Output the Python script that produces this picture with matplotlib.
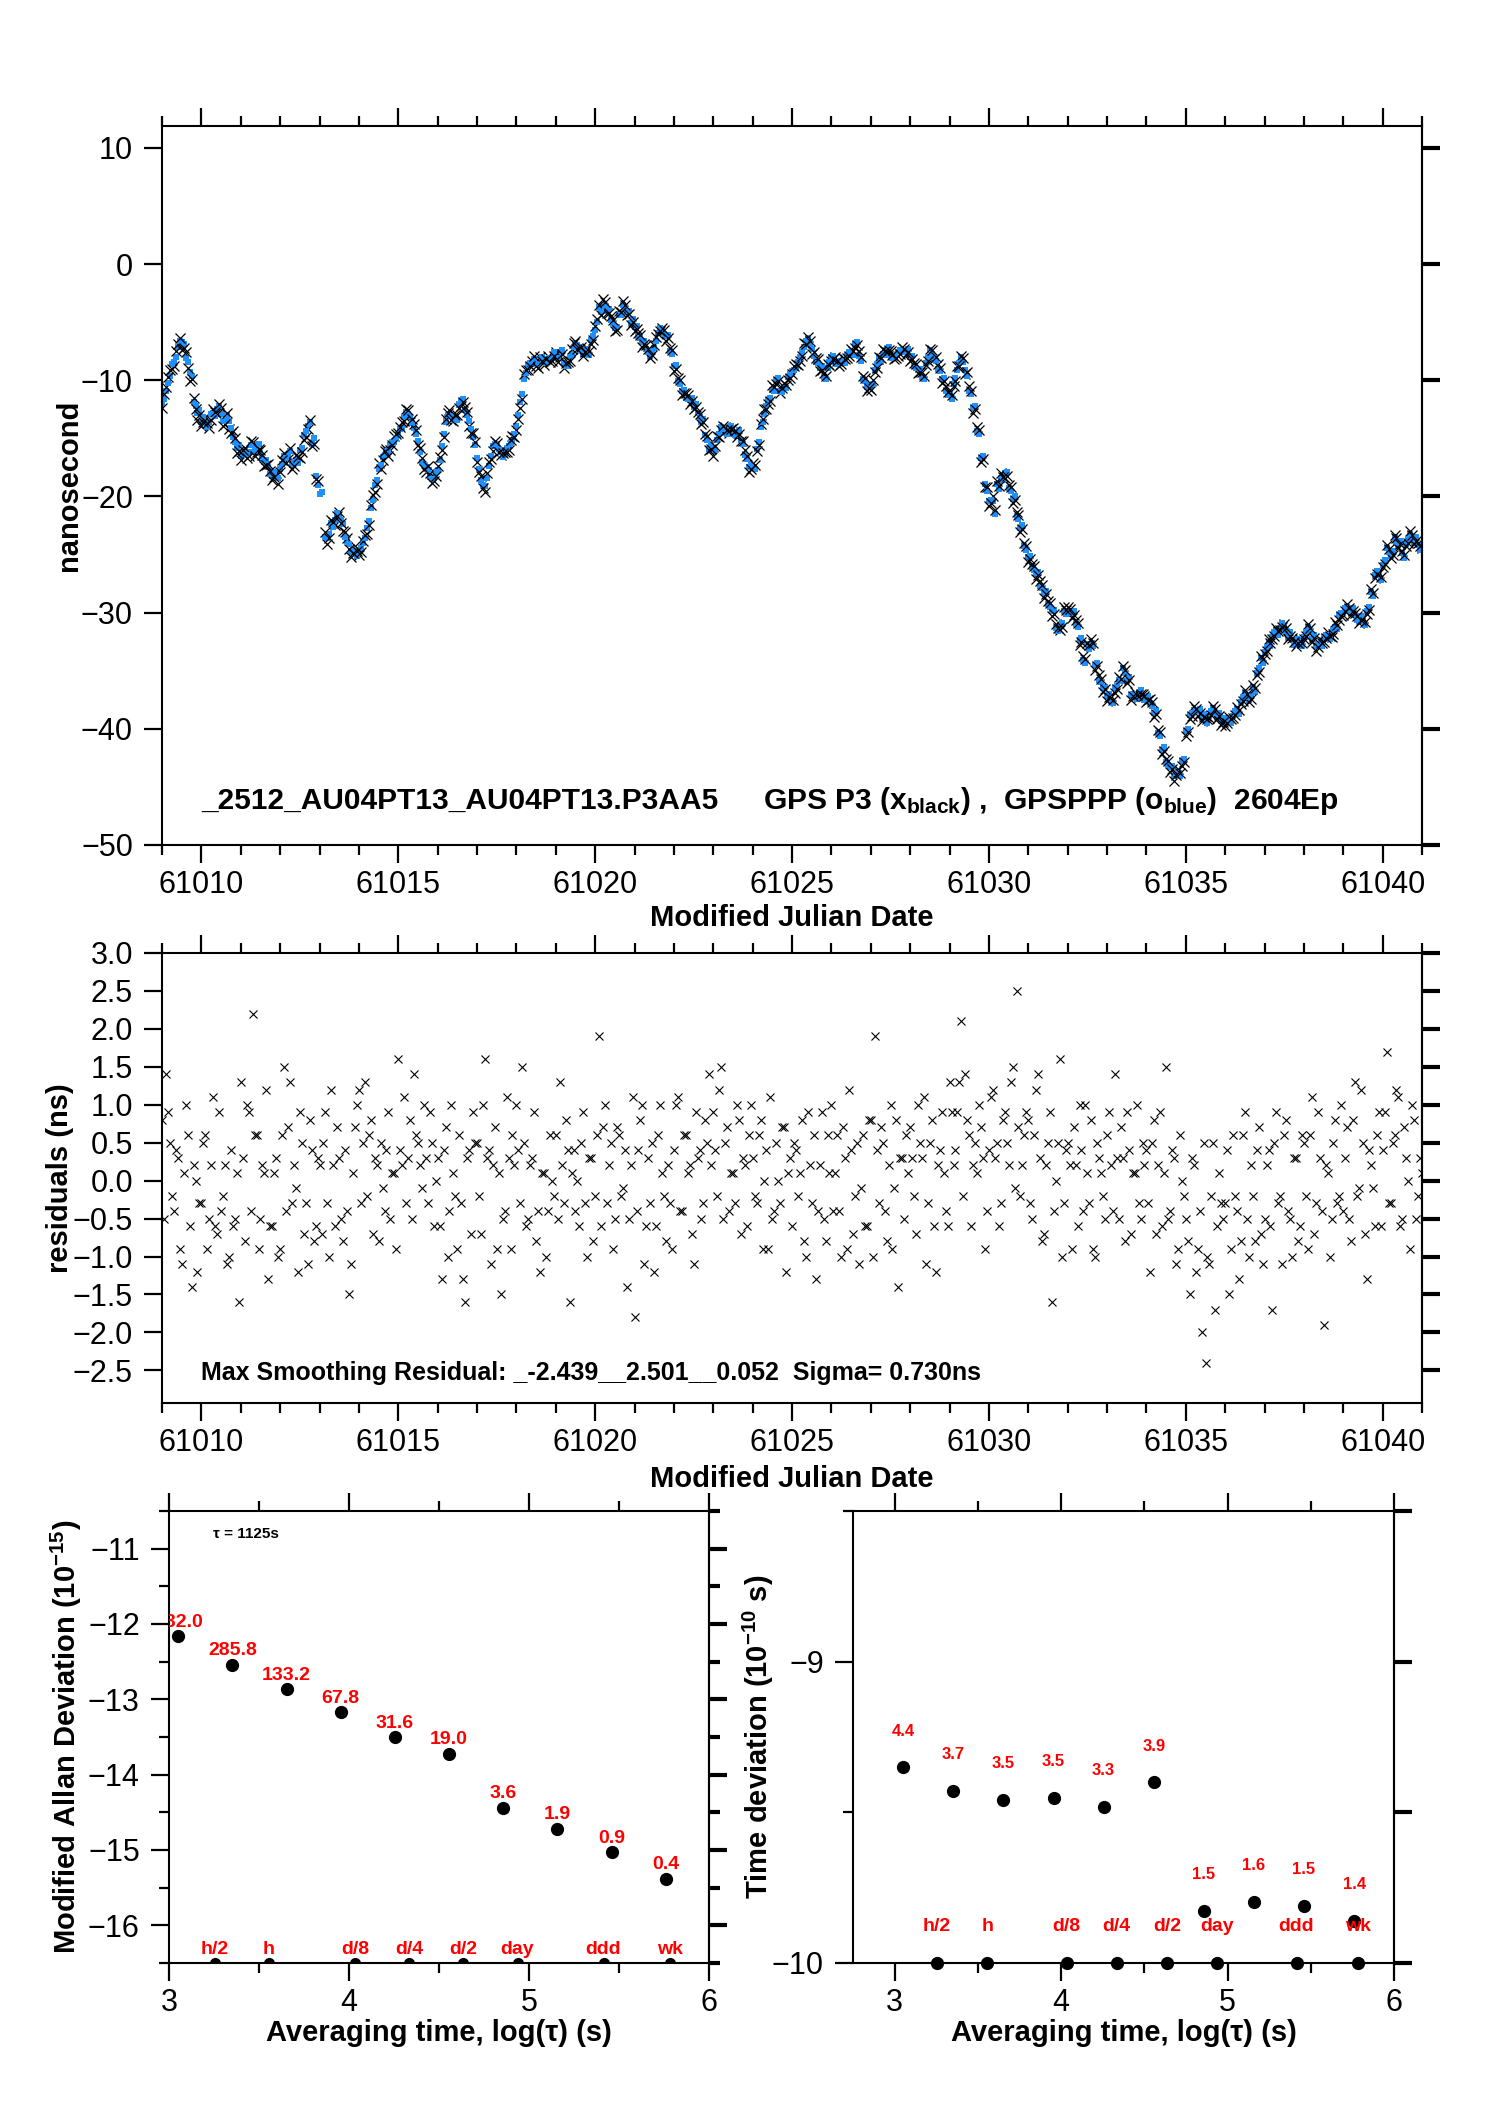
import numpy as np
import matplotlib
matplotlib.use('Agg')
import matplotlib.pyplot as plt
from matplotlib.ticker import MultipleLocator, FuncFormatter

plt.rcParams['font.family'] = ['Liberation Sans', 'DejaVu Sans']
plt.rcParams['mathtext.fontset'] = 'custom'
plt.rcParams['mathtext.rm'] = 'Liberation Sans'
plt.rcParams['mathtext.bf'] = 'Liberation Sans:bold'
plt.rcParams['mathtext.default'] = 'bf'

# ---- top panel: GPS P3 clock offsets (ns), every 0.1 day from MJD 61009.0
black_ns = [
    -12.4, -10.6, -9.1, -8.8, -6.9, -7.4, -7.6, -10.1, -11.5, -13.4,   # 61009
    -13.9, -13.2, -14.1, -12.5, -12.9, -12.4, -13.8, -14.2, -14.4, -16.3,  # 61010
    -16.9, -15.8, -16.5, -15.3, -16.2, -16.0, -17.4, -17.2, -18.6, -18.0,  # 61011
    -17.9, -16.3, -16.8, -17.6, -16.4, -16.7, -15.1, -14.2, -15.7, -18.5,  # 61012
    np.nan, np.nan, -24.1, -22.0, -22.5, -21.3, -23.0, -23.6, -25.2, -24.3,  # 61013
    -25.0, -23.8, -23.2, -20.7, -19.6, -17.1, -16.9, -15.9, -16.0, -14.8,  # 61014
    -14.5, -13.6, -12.5, -13.6, -13.8, -15.6, -16.7, -17.9, -18.0, -18.7,  # 61015
    -17.4, -16.0, -13.3, -12.6, -13.5, -13.0, -12.2, -12.3, -13.9, -14.5,  # 61016
    -17.0, -18.2, -19.6, -17.0, -16.1, -15.4, -16.4, -16.2, -16.0, -14.8,  # 61017
    -14.3, -12.4, -9.5, -9.1, -8.3, -8.8, -8.0, -8.7, -7.9, -8.3,  # 61018
    -7.6, -8.0, -8.9, -8.4, -7.3, -6.6, -7.5, -7.9, -7.2, -6.9,  # 61019
    -5.3, -3.5, -3.0, -4.2, -4.5, -5.8, -4.0, -3.2, -4.4, -5.2,  # 61020
    -5.8, -5.9, -7.1, -7.0, -8.1, -7.0, -6.0, -5.5, -6.6, -7.2,  # 61021
    -9.2, -9.8, -11.3, -11.1, -12.0, -12.5, -12.7, -13.8, -14.6, -16.0,  # 61022
    -16.5, -14.8, -14.3, -14.0, -14.5, -14.1, -14.9, -15.2, -16.0, -17.9,  # 61023
    -17.1, -16.1, -13.8, -12.5, -12.0, -10.4, -10.3, -11.1, -10.2, -10.0,  # 61024
    -9.5, -8.6, -8.3, -6.8, -6.3, -7.7, -8.1, -9.2, -9.4, -8.6,  # 61025
    -8.3, -8.0, -8.8, -8.1, -8.1, -7.3, -7.2, -7.5, -9.6, -10.9,  # 61026
    -10.8, -9.3, -8.0, -7.3, -7.6, -7.5, -8.2, -7.9, -7.1, -7.8,  # 61027
    -8.3, -8.5, -9.4, -9.3, -8.7, -7.3, -8.2, -8.6, -10.2, -10.5,  # 61028
    -11.0, -10.5, -8.8, -7.9, -9.5, -10.5, -12.8, -14.0, -17.0, -19.2,  # 61029
    -20.8, -20.0, -18.7, -18.0, -18.4, -19.0, -20.6, -21.3, -23.1, -24.0,  # 61030
    -25.6, -25.8, -27.1, -27.3, -28.7, -29.0, -30.3, -31.0, -31.5, -29.5,  # 61031
    -29.5, -30.5, -30.6, -32.8, -33.7, -32.6, -32.3, -34.9, -35.4, -36.8,  # 61032
    -37.6, -37.2, -36.9, -35.5, -34.6, -36.1, -37.5, -36.8, -37.3, -37.0,  # 61033
    -37.7, -37.4, -39.0, -40.1, -42.2, -42.6, -43.7, -44.5, -43.5, -43.2,  # 61034
    -40.6, -39.2, -38.0, -38.9, -39.3, -38.9, -39.1, -38.0, -39.2, -39.7,  # 61035
    -39.8, -39.0, -39.1, -38.1, -37.9, -36.7, -37.7, -36.2, -35.4, -33.7,  # 61036
    -33.6, -32.3, -32.3, -31.3, -31.5, -31.0, -32.3, -32.2, -32.9, -32.3,  # 61037
    -32.3, -31.0, -32.5, -33.3, -32.3, -32.5, -31.7, -32.1, -30.8, -30.6,  # 61038
    -30.2, -29.3, -30.2, -30.0, -30.9, -30.5, -30.1, -28.0, -27.0, -26.6,  # 61039
    -26.1, -24.2, -25.3, -23.3, -24.4, -24.7, -24.3, -23.0, -24.1, -24.0,  # 61040
    -24.4,
]

# GPS P3, in-between epochs (MJD 61009.05 + 0.1 day steps)
black_ns_b = [
    -11.2, -9.7, -9.0, -7.5, -6.4, -7.2, -8.9, -9.9, -12.5, -13.0,
    -13.6, -13.7, -13.4, -12.7, -12.0, -13.9, -12.8, -14.5, -15.0, -16.1,
    -16.0, -16.7, -15.2, -16.5, -15.9, -16.4, -17.3, -17.8, -18.3, -18.9,
    -16.9, -17.1, -15.8, -17.4, -16.6, -16.2, -14.9, -13.4, -15.5, -18.7,
    np.nan, -23.1, -23.6, -22.2, -21.7, -22.3, -23.1, -24.5, -24.9, -24.7,
    -24.8, -23.3, -22.5, -19.9, -18.9, -17.6, -16.1, -16.5, -15.6, -14.6,
    -14.0, -13.5, -12.6, -13.3, -14.3, -15.8, -17.6, -17.4, -18.8, -18.2,
    -16.6, -14.9, -12.8, -13.4, -13.0, -12.4, -11.9, -12.7, -14.5, -15.3,
    -17.9, -19.3, -18.0, -16.8, -15.2, -16.2, -16.3, -16.2, -15.1, -14.9,
    -13.3, -11.6, -9.1, -8.8, -7.9, -8.9, -8.3, -8.2, -8.4, -7.9,
    -8.4, -7.7, -8.5, -8.3, -6.8, -7.3, -7.1, -7.6, -7.5, -6.5,
    -4.7, -4.4, -3.3, -4.2, -4.8, -5.7, -4.1, -3.5, -4.3, -5.0,
    -5.6, -6.1, -6.9, -7.3, -7.8, -6.3, -5.8, -5.7, -6.4, -7.4,
    -9.0, -10.0, -11.1, -11.3, -11.8, -12.3, -12.9, -13.6, -14.8, -15.9,
    -15.7, -14.9, -13.9, -14.3, -14.2, -14.4, -14.6, -15.2, -16.5, -17.6,
    -17.3, -15.6, -13.3, -12.5, -11.8, -10.6, -10.1, -10.7, -10.4, -9.8,
    -8.8, -8.7, -7.9, -6.9, -6.6, -7.6, -8.2, -9.1, -9.6, -8.7,
    -8.2, -8.3, -8.6, -8.2, -7.9, -7.5, -7.0, -8.0, -9.8, -10.7,
    -10.0, -8.9, -8.1, -7.5, -7.4, -7.8, -8.1, -7.7, -7.3, -7.6,
    -8.2, -8.6, -9.3, -9.6, -8.3, -7.4, -8.0, -8.9, -10.1, -11.0,
    -11.3, -10.1, -8.8, -8.1, -9.3, -10.9, -12.5, -14.3, -16.8, -19.2,
    -20.6, -21.2, -19.1, -18.3, -18.2, -19.2, -20.3, -21.6, -22.8, -24.3,
    -25.4, -26.0, -26.8, -27.6, -28.4, -29.2, -30.1, -31.3, -31.2, -29.8,
    -29.7, -30.2, -30.9, -32.5, -34.0, -32.8, -32.6, -34.6, -35.7, -36.6,
    -37.3, -37.5, -36.6, -35.7, -34.9, -35.8, -37.2, -37.1, -37.0, -37.2,
    -37.5, -37.7, -38.7, -40.3, -41.9, -42.8, -43.5, -44.0, -43.8, -42.9,
    -40.3, -38.9, -38.3, -38.6, -39.0, -39.2, -38.8, -38.3, -38.9, -39.4,
    -39.5, -39.2, -38.8, -38.4, -37.6, -37.0, -37.4, -36.5, -35.1, -34.0,
    -33.3, -32.6, -32.0, -31.6, -31.2, -31.3, -32.0, -32.5, -32.6, -32.6,
    -32.0, -31.3, -32.2, -33.0, -32.6, -32.2, -32.0, -31.8, -31.1, -30.3,
    -29.9, -29.6, -29.9, -30.3, -30.6, -30.8, -29.8, -28.3, -26.7, -26.9,
    -25.8, -24.5, -25.0, -23.6, -24.1, -25.0, -24.0, -23.3, -23.8, -24.3,
]

# GPSPPP, every 0.1 day from MJD 61009.05
blue_ns = [
    -11.6, -10.2, -8.6, -8.0, -6.6, -6.9, -8.4, -9.6, -12.2, -12.6,
    -13.2, -14.0, -12.9, -13.1, -12.2, -13.5, -13.0, -14.1, -15.3, -15.6,
    -16.3, -16.4, -15.6, -16.1, -15.5, -16.8, -16.9, -18.1, -17.9, -18.4,
    -17.2, -16.7, -16.1, -17.0, -17.1, -15.8, -14.4, -13.6, -15.0, -19.0,
    -19.6, -23.5, -23.2, -22.6, -21.4, -22.0, -23.5, -24.1, -24.6, -25.1,
    -24.4, -23.6, -22.1, -20.3, -18.6, -17.3, -16.4, -16.1, -15.3, -15.0,
    -14.2, -13.2, -12.9, -13.7, -14.6, -16.2, -17.3, -17.7, -18.5, -17.9,
    -16.9, -14.6, -13.0, -13.1, -13.4, -12.1, -11.6, -13.0, -14.2, -15.6,
    -17.6, -19.0, -18.4, -16.5, -15.5, -15.9, -16.6, -15.9, -15.4, -14.6,
    -13.0, -11.2, -9.4, -8.5, -8.2, -8.6, -8.0, -8.5, -8.1, -7.6,
    -8.1, -7.4, -8.8, -8.0, -7.1, -7.0, -7.4, -7.3, -7.8, -6.2,
    -5.0, -4.1, -3.6, -3.9, -5.1, -5.4, -4.4, -3.8, -4.0, -4.7,
    -5.3, -6.4, -6.6, -7.6, -7.5, -6.6, -5.5, -6.0, -6.1, -7.7,
    -8.7, -10.3, -10.8, -11.6, -11.5, -12.0, -13.2, -13.3, -15.1, -15.6,
    -16.0, -14.6, -14.2, -14.6, -13.9, -14.7, -14.3, -15.5, -16.8, -17.3,
    -17.6, -15.3, -13.6, -12.2, -11.5, -10.9, -9.8, -11.0, -10.7, -9.5,
    -9.1, -8.4, -7.6, -6.6, -6.9, -7.9, -8.5, -8.8, -9.9, -8.4,
    -7.9, -8.6, -8.3, -8.5, -7.6, -7.8, -6.7, -8.3, -10.1, -10.4,
    -10.3, -8.6, -8.4, -7.8, -7.1, -8.1, -7.8, -7.4, -7.6, -7.3,
    -7.9, -8.9, -9.0, -9.9, -8.0, -7.7, -8.3, -9.2, -9.8, -11.3,
    -11.6, -9.8, -8.5, -8.4, -9.6, -11.2, -12.2, -14.6, -16.5, -19.5,
    -20.3, -21.5, -19.4, -18.6, -17.9, -19.5, -20.0, -21.9, -22.5, -24.6,
    -25.1, -26.3, -26.5, -27.9, -28.1, -29.5, -29.8, -31.6, -30.9, -30.1,
    -30.0, -29.9, -31.2, -32.2, -34.3, -33.1, -32.9, -34.3, -36.0, -36.4,
    -37.0, -37.8, -36.3, -35.9, -35.2, -35.5, -37.0, -37.4, -36.7, -37.5,
    -37.2, -38.0, -38.4, -40.6, -41.6, -43.1, -43.2, -43.8, -44.1, -42.6,
    -40.0, -38.6, -38.5, -38.3, -38.7, -39.5, -38.5, -38.6, -38.6, -39.1,
    -39.2, -39.5, -38.5, -38.7, -37.3, -37.3, -37.1, -36.8, -34.8, -34.3,
    -33.0, -32.9, -31.7, -31.9, -30.9, -31.6, -31.7, -32.8, -32.3, -32.9,
    -31.7, -31.6, -31.9, -32.7, -32.9, -31.9, -32.3, -31.5, -31.4, -30.0,
    -29.6, -29.9, -29.6, -30.6, -30.3, -31.1, -29.5, -28.6, -26.4, -27.2,
    -25.5, -24.8, -24.7, -23.9, -23.8, -25.3, -23.7, -23.6, -23.5, -24.6,
]

# GPSPPP, epochs on the tenth-day grid (MJD 61009.0 + 0.1 day steps)
blue_ns_b = [
    -12.0, -10.9, -9.6, -8.4, -7.1, -6.7, -8.1, -9.3, -11.9, -12.8,
    -13.6, -13.4, -13.6, -12.8, -12.5, -12.9, -13.5, -13.5, -14.9, -15.8,
    -16.5, -16.0, -16.2, -15.6, -15.9, -16.3, -17.0, -17.5, -18.2, -18.1,
    -17.6, -16.5, -16.5, -17.3, -16.9, -16.0, -14.7, -13.9, -15.5, -18.2,
    -19.8, np.nan, -23.6, -22.3, -22.0, -21.6, -22.4, -23.8, -24.8, -24.7,
    -24.6, -24.0, -22.7, -21.0, -19.0, -17.6, -16.6, -16.0, -15.6, -15.3,
    -14.7, -14.1, -12.7, -13.2, -14.1, -15.2, -17.0, -17.5, -18.3, -18.4,
    -17.7, -15.7, -13.6, -12.9, -13.1, -13.4, -11.8, -12.6, -13.5, -14.9,
    -16.7, -18.6, -19.1, -17.4, -15.7, -15.5, -16.2, -16.4, -15.7, -15.1,
    -13.9, -11.9, -9.9, -8.7, -8.6, -8.4, -8.4, -8.3, -8.2, -8.1,
    -7.9, -7.6, -8.5, -8.8, -7.7, -6.8, -7.1, -7.7, -7.4, -6.5,
    -5.7, -3.7, -3.5, -4.0, -4.8, -5.5, -4.3, -3.5, -4.1, -5.1,
    -5.4, -6.2, -6.7, -7.3, -7.9, -7.2, -5.9, -5.6, -6.2, -7.5,
    -8.8, -10.1, -10.9, -11.5, -11.7, -12.3, -12.8, -13.6, -14.7, -15.9,
    -16.1, -15.1, -14.0, -14.4, -14.1, -14.5, -14.5, -15.1, -16.4, -17.5,
    -17.5, -15.9, -14.0, -12.9, -11.7, -10.8, -10.0, -10.9, -10.6, -9.7,
    -9.2, -8.9, -8.0, -7.1, -6.4, -7.3, -8.4, -8.9, -9.7, -8.9,
    -8.0, -8.4, -8.4, -8.4, -7.8, -7.7, -6.9, -7.9, -9.9, -10.6,
    -10.5, -9.1, -8.1, -7.7, -7.3, -7.9, -7.9, -7.6, -7.5, -7.5,
    -8.0, -8.8, -9.1, -9.7, -8.5, -7.4, -8.1, -9.0, -9.9, -10.9,
    -11.2, -10.3, -9.1, -8.0, -9.1, -10.9, -12.4, -14.4, -16.7, -18.9,
    -20.4, -20.4, -18.9, -18.4, -18.0, -19.3, -20.2, -21.7, -22.7, -24.3,
    -25.2, -26.1, -26.7, -27.7, -28.3, -29.3, -29.9, -31.3, -31.1, -29.9,
    -29.9, -30.1, -31.0, -32.4, -34.1, -32.7, -32.7, -34.5, -35.8, -36.5,
    -37.2, -37.6, -36.5, -35.8, -34.8, -35.9, -37.1, -37.2, -36.9, -37.3,
    -37.3, -37.8, -38.6, -40.4, -41.8, -42.9, -43.3, -44.1, -43.7, -42.8,
    -40.2, -38.8, -38.4, -38.5, -39.1, -39.1, -38.9, -38.2, -39.0, -39.3,
    -39.6, -39.1, -38.9, -38.3, -37.7, -36.9, -37.5, -36.4, -35.2, -33.9,
    -33.4, -32.5, -32.1, -31.5, -31.3, -31.2, -32.1, -32.4, -32.7, -32.5,
    -32.1, -31.2, -32.3, -32.9, -32.7, -32.1, -32.1, -31.7, -31.2, -30.2,
    -30.0, -29.5, -30.0, -30.2, -30.7, -30.7, -29.9, -28.2, -26.8, -26.8,
    -25.9, -24.4, -25.1, -23.5, -24.2, -24.9, -24.1, -23.2, -23.9, -24.2,
    -24.3,
]

# ---- middle panel: smoothing residuals (ns), every 0.1 day from MJD 61009.0
resid_ns = [
    0.8, 1.4, 0.5, -0.4, 0.3, -1.1, 1.0, -0.6, 0.2, -1.2,
    -0.3, 0.6, -0.5, 1.1, -0.7, -0.4, 0.2, -1.0, -0.6, 0.1,
    1.3, -0.8, 0.9, 2.2, 0.6, -0.5, 0.1, -1.3, -0.6, 0.3,
    -0.9, 1.5, 0.7, -0.3, -0.1, 0.9, -0.7, -1.1, 0.4, -0.6,
    0.2, 0.5, -0.3, 1.2, -0.6, 0.3, -0.8, -0.4, -1.1, 0.7,
    1.2, 0.5, -0.2, 0.8, 0.3, -0.8, -0.1, 0.4, -0.5, 0.1,
    1.6, 0.2, -0.3, 0.8, 1.4, 0.5, -0.1, 0.3, 0.9, -0.6,
    0.3, -1.3, 0.7, -0.4, 0.1, -0.9, -0.3, -1.6, 0.4, 0.9,
    0.5, -0.7, 1.6, 0.4, 0.2, -0.9, -1.5, -0.4, 0.3, 0.6,
    1.0, -0.3, 0.5, -0.5, 0.3, -0.8, -1.2, 0.1, -0.4, 0.0,
    0.6, 1.3, -0.3, 0.4, 0.1, -0.4, -0.6, 0.9, -1.0, 0.3,
    -0.2, 1.9, 0.7, -0.3, 0.5, -0.5, 0.6, -0.1, -1.4, 0.2,
    -1.8, 0.4, 1.0, -0.6, -0.3, -1.2, 0.6, 0.1, -0.8, -0.3,
    0.4, 1.1, -0.4, 0.6, 0.2, -1.1, 0.3, -0.5, 0.8, 1.4,
    0.9, -0.2, 1.5, 0.5, -0.4, 0.1, 1.0, -0.7, 0.2, 0.6,
    0.3, -0.3, 0.8, 0.0, -0.9, -0.5, 0.5, -0.3, 0.7, 0.1,
    -0.6, 0.4, 0.1, -0.8, 0.9, -0.3, -1.3, 0.2, -0.5, 0.6,
    1.0, 0.1, -0.4, 0.7, -0.9, 0.4, -0.2, -1.1, 0.6, -0.6,
    0.8, 1.9, -0.3, 0.5, -0.8, 1.0, -0.1, -1.4, 0.3, 0.6,
    0.7, -0.2, 1.0, 0.3, -1.1, 0.5, -0.6, 0.2, 0.9, -0.4,
    1.3, 0.2, 0.9, 2.1, 1.4, 0.6, 0.2, 0.1, 0.7, -0.9,
    0.4, 1.2, 0.5, -0.3, 0.9, 0.2, 1.5, 2.5, -0.2, 0.6,
    0.8, -0.5, 1.2, 0.3, -0.7, 0.5, -1.6, 0.0, 1.6, -0.3,
    0.5, -0.9, 0.2, 1.0, -0.4, 0.1, 0.8, -1.0, 0.3, -0.2,
    0.6, 0.2, 1.4, -0.5, 0.3, 0.9, -0.7, 0.1, -0.3, 0.5,
    0.4, -1.2, 0.8, 0.2, -0.6, 1.5, -0.4, 0.3, -0.9, 0.0,
    -0.5, -1.5, 0.2, -0.9, -2.0, -2.4, -1.1, 0.5, -0.6, -0.3,
    -0.3, -1.5, 0.6, -0.4, -0.8, 0.9, -1.0, -0.2, 0.4, -0.7,
    -0.5, 0.4, -1.7, 0.9, -0.2, 0.6, -0.4, -1.0, 0.3, -0.6,
    0.5, -0.9, 1.1, -0.3, 0.3, -1.9, 0.1, -0.5, 0.8, -0.2,
    -0.4, 0.7, -0.8, 1.3, -0.1, 0.5, -1.3, 0.2, -0.6, 0.9,
    0.4, 1.7, -0.3, 0.6, 1.1, -0.5, 0.3, -0.9, 0.8, -0.2,
    0.1,
]

# residuals at the in-between epochs (MJD 61009.05 + 0.1 day steps)
resid_ns_b = [
    -0.5, 0.9, -0.2, 0.4, -0.9, 0.1, 0.6, -1.4, 0.0, -0.3,
    0.5, -0.9, 0.2, -0.6, 0.9, -0.2, -1.1, 0.4, -0.5, -1.6,
    0.3, 1.0, -0.4, 0.6, -0.9, 0.2, 1.2, -0.6, 0.1, -1.0,
    0.6, -0.4, 1.3, 0.2, -1.2, 0.5, -0.3, 0.8, -0.8, 0.3,
    -0.7, 0.9, -1.0, 0.2, 0.7, -0.5, 0.4, -1.5, 0.1, 1.0,
    -0.3, 1.3, 0.6, -0.7, 0.2, 0.5, -0.4, 0.9, 0.1, -0.9,
    0.4, 1.1, 0.3, -0.5, 0.6, 0.2, 1.0, -0.3, 0.5, 0.0,
    -0.6, 0.4, -1.0, 1.0, -0.2, 0.6, -1.3, 0.3, -0.7, 0.5,
    -0.2, 1.0, 0.3, -1.1, 0.7, 0.1, -0.5, 1.1, -0.9, 0.2,
    0.4, 1.5, -0.6, 0.2, 0.9, -0.4, 0.1, -1.0, 0.6, -0.2,
    -0.5, 0.2, 0.8, -1.6, 0.4, 0.0, 0.5, -0.3, 0.3, -0.8,
    0.6, -0.6, 1.0, 0.2, -0.9, 0.7, -0.2, 0.4, -0.5, 1.1,
    -0.4, 0.8, -1.1, 0.3, 0.5, -0.6, 1.0, -0.2, 0.2, -0.9,
    1.0, -0.4, 0.6, 0.1, -0.7, 0.9, 0.4, -0.3, 0.5, 0.2,
    0.4, 1.2, -0.5, 0.7, 0.1, -0.3, 0.8, 0.3, -0.6, 1.0,
    -0.2, 0.6, -0.9, 0.4, 1.1, -0.4, 0.0, 0.7, -1.2, 0.3,
    0.5, -0.2, 0.8, -1.0, 0.2, 0.6, -0.4, 0.9, -0.8, 0.1,
    -0.4, 0.6, -1.0, 0.3, 1.2, -0.7, 0.5, -0.1, -0.6, 0.8,
    -1.0, 0.4, 0.7, -0.4, 0.2, -0.9, 0.8, 0.3, -0.5, 0.1,
    0.3, -0.7, 0.5, 1.1, -0.3, 0.8, -1.2, 0.4, 0.1, -0.6,
    0.9, 0.4, 1.3, -0.2, 0.8, -0.6, 0.5, 1.0, 0.3, -0.4,
    1.1, 0.3, -0.6, 0.8, 0.5, 1.3, -0.1, 0.7, 0.2, 0.9,
    -0.3, 0.6, 1.4, -0.8, 0.2, 0.9, -0.4, 0.5, -1.0, 0.4,
    0.2, 0.7, -0.6, 0.4, 1.0, -0.3, -0.9, 0.5, 0.1, -0.5,
    0.9, -0.4, 0.3, 0.7, -0.8, 0.4, 0.1, 1.0, -0.5, 0.2,
    -0.3, 0.5, -0.7, 0.9, 0.1, -0.5, 0.4, -1.1, 0.6, -0.2,
    -0.8, 0.3, -1.2, -0.4, 0.5, -1.0, -0.2, -1.7, 0.1, -0.5,
    0.4, -0.9, -0.2, -1.3, 0.6, -0.5, 0.2, -0.8, 0.7, -1.1,
    0.2, -0.6, 0.5, -0.3, -1.1, 0.8, -0.5, 0.3, -0.8, 0.6,
    -0.2, 0.6, -0.7, 0.9, -0.4, 0.2, -1.0, 0.5, -0.3, 1.0,
    0.3, -0.5, 0.8, -0.2, 1.2, -0.7, 0.4, -0.1, 0.6, -0.6,
    0.9, -0.3, 0.5, 1.2, -0.6, 0.7, 0.0, 1.0, -0.5, 0.3,
]

black_mjd = np.arange(len(black_ns)) * 0.1 + 61009.0
black_mjd_b = np.arange(len(black_ns_b)) * 0.1 + 61009.05
blue_mjd = np.arange(len(blue_ns)) * 0.1 + 61009.05
blue_mjd_b = np.arange(len(blue_ns_b)) * 0.1 + 61009.0
resid_mjd = np.arange(len(resid_ns)) * 0.1 + 61009.0
resid_mjd_b = np.arange(len(resid_ns_b)) * 0.1 + 61009.05

# ---- bottom panels
log_tau = [3.051, 3.352, 3.653, 3.954, 4.255, 4.556, 4.857, 5.158, 5.459, 5.760]
mdev_log = [-12.16, -12.54, -12.87, -13.17, -13.50, -13.72, -14.44, -14.72, -15.03, -15.38]
mdev_lbl = ['632.0', '285.8', '133.2', '67.8', '31.6', '19.0', '3.6', '1.9', '0.9', '0.4']
tdev_log = [-9.351, -9.429, -9.458, -9.452, -9.481, -9.401, -9.827, -9.797, -9.811, -9.860]
tdev_lbl = ['4.4', '3.7', '3.5', '3.5', '3.3', '3.9', '1.5', '1.6', '1.5', '1.4']
mark_log = [3.255, 3.556, 4.033, 4.334, 4.635, 4.936, 5.414, 5.782]
mark_lbl = ['h/2', 'h', 'd/8', 'd/4', 'd/2', 'day', 'ddd', 'wk']

FS = 22
LBL = 21


def minus(fmt):
    return FuncFormatter(lambda v, p: (fmt % v).replace('-', '\u2212'))


def style(ax, ymaj, ymin=None):
    for s in ax.spines.values():
        s.set_linewidth(1.5)
    ax.tick_params(which='both', direction='out', top=True, right=False,
                   width=1.6, labelsize=FS)
    ax.tick_params(axis='x', pad=5)
    ax.tick_params(axis='y', pad=8)
    ax.tick_params(which='major', length=13)
    ax.tick_params(which='minor', length=7)
    # heavier ticks on the right-hand frame
    sec = ax.secondary_yaxis('right')
    sec.yaxis.set_major_locator(MultipleLocator(ymaj))
    if ymin:
        sec.yaxis.set_minor_locator(MultipleLocator(ymin))
    sec.tick_params(which='both', direction='out', width=3, labelright=False)
    sec.tick_params(which='major', length=13)
    sec.tick_params(which='minor', length=8)
    sec.spines['right'].set_linewidth(1.5)


fig = plt.figure(figsize=(14.88, 21.05), dpi=100)

# top panel
ax1 = fig.add_axes([0.1089, 0.5986, 0.8468, 0.3416])
ax1.plot(blue_mjd_b, blue_ns_b, 's', color='#1E90FF', ms=3.8, mew=0)
ax1.plot(black_mjd, black_ns, 'x', color='black', ms=6.5, mew=0.9)
ax1.plot(blue_mjd, blue_ns, 's', color='#1E90FF', ms=3.8, mew=0)
ax1.plot(black_mjd_b, black_ns_b, 'x', color='black', ms=6.5, mew=0.9)
ax1.set_xlim(61009.0, 61041.0)
ax1.set_ylim(-50, 11.9)
ax1.xaxis.set_major_locator(MultipleLocator(5))
ax1.xaxis.set_minor_locator(MultipleLocator(1))
ax1.yaxis.set_major_locator(MultipleLocator(10))
ax1.xaxis.set_major_formatter(FuncFormatter(lambda v, p: '%d' % v))
ax1.yaxis.set_major_formatter(minus('%d'))
style(ax1, 10)
ax1.set_ylabel('nanosecond', fontsize=LBL, fontweight='bold')
ax1.yaxis.set_label_coords(-0.063, 0.5)
ax1.set_xlabel('Modified Julian Date', fontsize=LBL, fontweight='bold')
ax1.xaxis.set_label_coords(0.5, -0.082)
ax1.text(61010.0, -46.9, '_2512_AU04PT13_AU04PT13.P3AA5', fontsize=21.5,
         fontweight='bold', va='baseline')
ax1.text(61024.25, -46.9,
         r'GPS P3 (x$_{black}$) ,  GPSPPP (o$_{blue}$)  2604Ep',
         fontsize=21.5, fontweight='bold', va='baseline')

# middle panel
ax2 = fig.add_axes([0.1089, 0.3335, 0.8468, 0.2138])
ax2.plot(resid_mjd, resid_ns, 'x', color='black', ms=5.5, mew=0.8)
ax2.plot(resid_mjd_b, resid_ns_b, 'x', color='black', ms=5.5, mew=0.8)
ax2.set_xlim(61009.0, 61041.0)
ax2.set_ylim(-2.93, 3.0)
ax2.xaxis.set_major_locator(MultipleLocator(5))
ax2.xaxis.set_minor_locator(MultipleLocator(1))
ax2.yaxis.set_major_locator(MultipleLocator(0.5))
ax2.xaxis.set_major_formatter(FuncFormatter(lambda v, p: '%d' % v))
ax2.yaxis.set_major_formatter(minus('%.1f'))
style(ax2, 0.5)
ax2.set_ylabel('residuals (ns)', fontsize=LBL, fontweight='bold')
ax2.yaxis.set_label_coords(-0.0695, 0.5)
ax2.set_xlabel('Modified Julian Date', fontsize=LBL, fontweight='bold')
ax2.xaxis.set_label_coords(0.5, -0.138)
ax2.text(61010.0, -2.63,
         'Max Smoothing Residual: _-2.439__2.501__0.052  Sigma= 0.730ns',
         fontsize=18, fontweight='bold', va='baseline')

# bottom left: modified Allan deviation
ax3 = fig.add_axes([0.1136, 0.0675, 0.3629, 0.2147])
ax3.plot(log_tau, mdev_log, 'o', color='black', ms=8.5)
ax3.plot(mark_log, [-16.5] * len(mark_log), 'o', color='black', ms=7)
for x, y, t in zip(log_tau, mdev_log, mdev_lbl):
    ax3.annotate(t, (x, y), xytext=(0, 10), textcoords='offset points',
                 ha='center', va='center', color='red', fontsize=14,
                 fontweight='bold', annotation_clip=False, clip_on=True)
for x, t in zip(mark_log, mark_lbl):
    ax3.annotate(t, (x, -16.5), xytext=(0, 10), textcoords='offset points',
                 ha='center', va='center', color='red', fontsize=14,
                 fontweight='bold')
ax3.text(3.244, -10.8, '\u03c4 = 1125s', fontsize=11, fontweight='bold',
         va='center')
ax3.set_xlim(3, 6)
ax3.set_ylim(-16.5, -10.5)
ax3.xaxis.set_major_locator(MultipleLocator(1))
ax3.xaxis.set_minor_locator(MultipleLocator(0.5))
ax3.yaxis.set_major_locator(MultipleLocator(1))
ax3.yaxis.set_minor_locator(MultipleLocator(0.5))
ax3.xaxis.set_major_formatter(minus('%d'))
ax3.yaxis.set_major_formatter(minus('%d'))
style(ax3, 1, 0.5)
ax3.set_ylabel(r'Modified Allan Deviation (10$^{-15}$)', fontsize=LBL,
               fontweight='bold')
ax3.yaxis.set_label_coords(-0.158, 0.5)
ax3.set_xlabel('Averaging time, log(\u03c4) (s)', fontsize=LBL,
               fontweight='bold')
ax3.xaxis.set_label_coords(0.5, -0.124)

# bottom right: time deviation
ax4 = fig.add_axes([0.5733, 0.0675, 0.3636, 0.2147])
ax4.plot(log_tau, tdev_log, 'o', color='black', ms=8.5)
ax4.plot(mark_log, [-10.0] * len(mark_log), 'o', color='black', ms=8.5,
         clip_on=False)
for x, y, t in zip(log_tau, tdev_log, tdev_lbl):
    ax4.annotate(t, (x, y), xytext=(0, 26), textcoords='offset points',
                 ha='center', va='center', color='red', fontsize=12,
                 fontweight='bold')
for x, t in zip(mark_log, mark_lbl):
    ax4.annotate(t, (x, -10.0), xytext=(0, 26), textcoords='offset points',
                 ha='center', va='center', color='red', fontsize=14,
                 fontweight='bold')
ax4.set_xlim(2.75, 6)
ax4.set_ylim(-10, -8.5)
ax4.xaxis.set_major_locator(MultipleLocator(1))
ax4.xaxis.set_minor_locator(MultipleLocator(0.5))
ax4.yaxis.set_major_locator(MultipleLocator(1))
ax4.yaxis.set_minor_locator(MultipleLocator(0.5))
ax4.xaxis.set_major_formatter(minus('%d'))
ax4.yaxis.set_major_formatter(minus('%d'))
style(ax4, 0.5)
ax4.set_ylabel(r'Time deviation (10$^{-10}$ s)', fontsize=LBL,
               fontweight='bold')
ax4.yaxis.set_label_coords(-0.142, 0.5)
ax4.set_xlabel('Averaging time, log(\u03c4) (s)', fontsize=LBL,
               fontweight='bold')
ax4.xaxis.set_label_coords(0.5, -0.124)

fig.savefig('out.png', dpi=100)
